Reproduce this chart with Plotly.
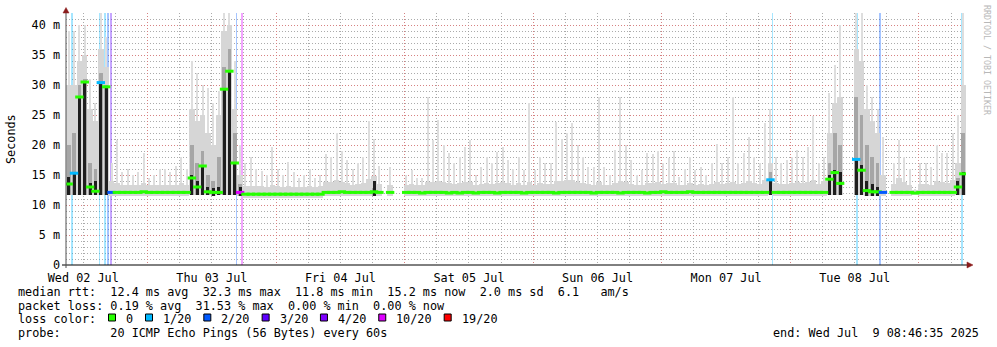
import pandas as pd
import plotly.graph_objects as go

# ---------------- data ----------------
start = pd.Timestamp("2025-07-02 08:46:35")
end = pd.Timestamp("2025-07-09 08:46:35")
bins = pd.date_range(start, periods=168, freq="h")          # hourly bins
centers = bins + pd.Timedelta(minutes=30)
N = None

# median rtt per hour (ms)
rtt_median = [
    13.5, 15.3, 28.0, 30.5, 13.0, 12.3, 30.4, 29.7, 12.1, 12.1, 12.1, 12.1, 12.1, 12.1, 12.2, 12.1, 12.1, 12.1, 12.1, 12.1, 12.1, 12.1, 12.1, 14.5,
    13.0, 16.5, 12.2, 12.1, 12.1, 29.3, 32.3, 17.0, 12.1, 11.8, 11.8, 11.8, 11.8, 11.8, 11.8, 11.8, 11.8, 11.8, 11.8, 11.8, 11.8, 11.8, 11.8, 11.8,
    12.1, 12.1, 12.1, 12.2, 12.1, 12.1, 12.1, 12.1, 12.1, 12.2, 12.1, N, 12.1, N, N, 12.1, 12.1, 12.1, 12.0, 12.1, 12.1, 12.1, 12.1, 12.0,
    12.1, 12.0, 12.1, 12.1, 12.0, 12.1, 12.1, 12.1, 12.0, 12.1, 12.1, 12.1, 12.1, 12.0, 12.1, 12.1, 12.1, 12.1, 12.1, 12.0, 12.1, 12.1, 12.1, 12.1,
    12.1, 12.1, 12.0, 12.1, 12.1, 12.1, 12.1, 12.0, 12.1, 12.1, 12.1, 12.1, 12.0, 12.1, 12.1, 12.2, 12.1, 12.1, 12.1, 12.1, 12.2, 12.1, 12.1, 12.1,
    12.1, 12.1, 12.1, 12.1, 12.1, 12.1, 12.1, 12.1, 12.1, 12.1, 12.1, 14.2, 12.1, 12.1, 12.1, 12.1, 12.1, 12.1, 12.1, 12.1, 12.1, 12.1, 14.3, 15.4,
    13.6, N, N, 17.6, 15.8, 12.4, 12.2, 12.2, 12.1, N, 12.1, 12.1, 12.1, 12.1, 12.0, 12.1, 12.1, 12.1, 12.1, 12.1, 12.1, 12.1, 13.0, 15.2,
]

# fastest ping per hour (ms) - bottom of the smoke
rtt_min = [
    11.6, 11.6, 11.7, 11.7, 11.6, 11.6, 11.7, 11.7, 11.5, 11.5, 11.5, 11.5, 11.5, 11.5, 11.5, 11.5, 11.5, 11.5, 11.5, 11.5, 11.5, 11.5, 11.5, 11.6,
    11.6, 11.6, 11.6, 11.5, 11.6, 11.7, 11.7, 11.6, 11.5, 11.2, 11.2, 11.2, 11.2, 11.2, 11.2, 11.2, 11.2, 11.2, 11.2, 11.2, 11.2, 11.2, 11.2, 11.2,
    11.5, 11.5, 11.5, 11.5, 11.5, 11.5, 11.5, 11.5, 11.5, 11.5, 11.5, N, 11.5, N, N, 11.5, 11.5, 11.5, 11.5, 11.5, 11.5, 11.5, 11.5, 11.5,
    11.5, 11.5, 11.5, 11.5, 11.5, 11.5, 11.5, 11.5, 11.5, 11.5, 11.5, 11.5, 11.5, 11.5, 11.5, 11.5, 11.5, 11.5, 11.5, 11.5, 11.5, 11.5, 11.5, 11.5,
    11.5, 11.5, 11.5, 11.5, 11.5, 11.5, 11.5, 11.5, 11.5, 11.5, 11.5, 11.5, 11.5, 11.5, 11.5, 11.5, 11.5, 11.5, 11.5, 11.5, 11.5, 11.5, 11.5, 11.5,
    11.5, 11.5, 11.5, 11.5, 11.5, 11.5, 11.5, 11.5, 11.5, 11.5, 11.5, 11.6, 11.5, 11.5, 11.5, 11.5, 11.5, 11.5, 11.5, 11.5, 11.5, 11.5, 11.6, 11.6,
    11.6, N, N, 11.6, 11.6, 11.5, 11.5, 11.5, 11.5, N, 11.5, 11.5, 11.5, 11.5, 11.6, 11.5, 11.5, 11.5, 11.5, 11.5, 11.5, 11.5, 11.6, 11.6,
]

# slowest ping per hour (ms) - top of the light smoke
rtt_max = [
    39, 39, 40, 40, 31, 27, 42, 38, 17, 20.8, 15.5, 16, 15, 15.5, 18.6, 14.5, 15, 16, 16, 15.5, 16.5, 18, 16, 34,
    32, 30, 29.5, 27, 29, 42, 42, 34, 20, 17, 18, 16, 15.6, 15, 19.7, 16, 15, 17.2, 15.5, 14.5, 15, 16, 14.5, 15,
    18.5, 18, 22, 19, 17.5, 16, 17, 18, 24, 21, 16.5, N, 16.4, N, N, 15, 15.8, 14.5, 14.5, 28, 20.8, 24.2, 20, 18.6,
    17, 18, 19.7, 20.8, 15, 16.4, 18, 17, 18.9, 19.7, 17.5, 16, 18, 15.8, 27, 15.8, 18, 17, 17, 23.9, 21, 22, 23.6, 20,
    18, 16.4, 16.4, 28, 16.4, 15, 19.2, 28, 20, 17.5, 15, 15.8, 18.6, 18.5, 19, 17, 17.8, 19, 14.7, 16, 18, 15.8, 16.4, 15,
    17, 20.2, 17, 18, 28, 17, 18.6, 21.4, 18, 17, 23.6, 26, 18, 17, 17.5, 18, 19.2, 18, 19.7, 24.8, 17, 18, 28.6, 33.3,
    40, N, N, 42, 42, 30, 28, 26, 21.4, N, 17, 20.8, 18, 16, 12.6, 17, 17, 16.4, 20, 18.6, 18.6, 22, 25, 42,
]

# upper band of the smoke (ms)
rtt_band = [
    30, 30, 34, 35, 26, 24, 36, 33, 14.0, 13.6, 13.4, 13.4, 13.3, 13.4, 13.6, 13.3, 13.3, 13.4, 13.4, 13.3, 13.4, 13.6, 13.4, 26,
    24, 25, 22, 20, 25, 39, 40, 26, 15, 13.2, 13.2, 13.1, 13.1, 13.0, 13.3, 13.1, 13.0, 13.2, 13.0, 13.0, 13.0, 13.1, 13.0, 13.1,
    13.8, 13.8, 14.2, 13.9, 13.6, 13.4, 13.5, 13.7, 14.3, 14.8, 13.5, N, 13.4, N, N, 13.4, 13.5, 13.3, 13.3, 13.8, 13.8, 14.0, 13.8, 13.6,
    13.5, 13.6, 13.8, 13.9, 13.3, 13.5, 13.6, 13.5, 13.7, 13.8, 13.6, 13.4, 13.6, 13.4, 13.8, 13.4, 13.6, 13.5, 13.5, 14.0, 14.0, 14.2, 14.2, 13.8,
    13.6, 13.5, 13.4, 13.8, 13.4, 13.3, 13.7, 14.0, 13.8, 13.5, 13.3, 13.4, 13.7, 13.7, 13.8, 13.5, 13.6, 13.7, 13.3, 13.4, 13.6, 13.4, 13.5, 13.4,
    13.5, 13.8, 13.5, 13.6, 13.9, 13.5, 13.6, 14.0, 13.6, 13.5, 14.2, 17, 13.6, 13.5, 13.5, 13.6, 13.8, 13.6, 13.8, 14.2, 13.5, 14.0, 22, 27,
    28, N, N, 36, 34, 26, 24, 22, 15, N, 13.5, 14.5, 13.8, 13.4, 12.5, 13.5, 13.5, 13.4, 14.0, 13.8, 13.7, 14.2, 17, 30,
]

# hours with dense (dark) smoke: bin index, top of medium core, top of black core
busy_bins = [0, 1, 2, 3, 4, 5, 6, 7, 23, 24, 25, 26, 27, 28, 29, 30, 31, 32, 57, 131,
             142, 143, 144, 147, 148, 149, 150, 151, 166, 167]
busy_core = [20, 22, 30, 31, 17, 16, 32, 30, 20, 17, 19, 15, 14, 18, 33, 36, 22, 13.5, 12.8, 15.5,
             17, 22, 20, 28, 25, 20, 18, 17, 14.5, 22]
busy_dark = [14.7, 15.3, 28.2, 30.5, 13.7, 14.0, 30.4, 29.7, 15.0, 14.0, 16.4, 13.0, 12.8, 13.0, 29.5, 32.2, 17.2, 13.0, 14.0, 14.2,
             15.0, 15.8, 15.5, 17.8, 16.7, 14.0, 13.5, 13.0, 14.0, 15.5]

# hours whose median carries packet loss (bin index, lost pings of 20)
median_loss_bins = [1, 6, 8, 32, 131, 147, 152]
median_loss_vals = [1, 1, 2, 10, 1, 1, 2]

# individual loss events (vertical bars)
loss_times = ["2025-07-02 09:57", "2025-07-02 15:01", "2025-07-02 16:06", "2025-07-02 16:40",
              "2025-07-02 17:10", "2025-07-03 16:36", "2025-07-03 17:35", "2025-07-07 20:39",
              "2025-07-08 12:29", "2025-07-08 16:43", "2025-07-09 08:02"]
loss_counts = [1, 1, 1, 2, 3, 2, 10, 1, 1, 2, 1]

loss_levels = [0, 1, 2, 3, 4, 10, 19]
loss_labels = ["0", "1/20", "2/20", "3/20", "4/20", "10/20", "19/20"]
loss_colors = ["#26ff00", "#00b8ff", "#0059ff", "#5e00ff", "#7e00ff", "#dd00ff", "#ff0000"]

y_ticks = [0, 5, 10, 15, 20, 25, 30, 35, 40]
y_ticktext = ["0", "5 m", "10 m", "15 m", "20 m", "25 m", "30 m", "35 m", "40 m"]
day_labels = ["Wed 02 Jul", "Thu 03 Jul", "Fri 04 Jul", "Sat 05 Jul", "Sun 06 Jul", "Mon 07 Jul", "Tue 08 Jul"]

stat_lines = [
    "median rtt:  12.4 ms avg  32.3 ms max  11.8 ms min  15.2 ms now  2.0 ms sd  6.1   am/s",
    "packet loss: 0.19 % avg  31.53 % max  0.00 % min  0.00 % now",
]
probe_line = "probe:       20 ICMP Echo Pings (56 Bytes) every 60s"
end_line = "end: Wed Jul  9 08:46:35 2025"

# ---------------- helpers ----------------
def loss_color(n):
    c = loss_colors[0]
    for lv, col in zip(loss_levels, loss_colors):
        if n >= lv:
            c = col
    return c

def rgba(hexc, a):
    h = hexc.lstrip("#")
    return "rgba(%d,%d,%d,%.2f)" % (int(h[0:2], 16), int(h[2:4], 16), int(h[4:6], 16), a)

MONO = "DejaVu Sans Mono"
FS = 11.8
HOUR_MS = 3600 * 1000
L, R, T, B = 66, 31, 13, 82
W, H = 997, 347
PW, PH = W - L - R, H - T - B
YMAX = 42.0

def px(x):
    return (x - L) / PW

def py(y):
    return (T + PH - y) / PH

def diff(top, base):
    return [None if (a is None or b is None) else a - b for a, b in zip(top, base)]

fig = go.Figure()

# loss bars (full height)
fig.add_trace(go.Bar(
    x=pd.to_datetime(loss_times), y=[YMAX] * len(loss_times), base=0,
    width=[20 * 60 * 1000] * len(loss_times),
    marker=dict(color=[rgba(loss_color(n), 0.35) for n in loss_counts], line=dict(width=0)),
    hoverinfo="skip", showlegend=False))

# light smoke spikes
fig.add_trace(go.Bar(
    x=centers, y=diff(rtt_max, rtt_min), base=rtt_min, width=0.38 * HOUR_MS,
    marker=dict(color="#dedede", line=dict(width=0)), hoverinfo="skip", showlegend=False))
# smoke band
fig.add_trace(go.Bar(
    x=centers, y=diff(rtt_band, rtt_min), base=rtt_min, width=1.0 * HOUR_MS,
    marker=dict(color="#d6d6d6", line=dict(width=0)), hoverinfo="skip", showlegend=False))

busy_x = [centers[i] for i in busy_bins]
busy_base = [rtt_min[i] for i in busy_bins]
fig.add_trace(go.Bar(
    x=busy_x, y=diff(busy_core, busy_base), base=busy_base, width=0.7 * HOUR_MS,
    marker=dict(color="#a6a6a6", line=dict(width=0)), hoverinfo="skip", showlegend=False))
fig.add_trace(go.Bar(
    x=busy_x, y=diff(busy_dark, busy_base), base=busy_base, width=0.55 * HOUR_MS,
    marker=dict(color="#1e1e1e", line=dict(width=0)), hoverinfo="skip", showlegend=False))

# median, coloured by loss
med_loss = [0] * len(rtt_median)
for i, v in zip(median_loss_bins, median_loss_vals):
    med_loss[i] = v
fig.add_trace(go.Scatter(
    x=centers, y=rtt_median, mode="markers",
    marker=dict(symbol="line-ew", size=6,
                line=dict(width=3, color=[loss_color(n) for n in med_loss])),
    hoverinfo="skip", showlegend=False))

# dummy trace for the day-label axis
noons = [pd.Timestamp("2025-07-%02d 12:00" % d) for d in range(2, 9)]
fig.add_trace(go.Scatter(x=noons, y=[None] * len(noons), xaxis="x2", mode="markers",
                         hoverinfo="skip", showlegend=False))

midnights = [pd.Timestamp("2025-07-%02d 00:00" % d) for d in range(3, 10)]

GRID_MAJOR = "rgba(225,120,120,0.8)"
GRID_MINOR = "rgba(150,150,150,0.8)"

fig.update_layout(
    width=W, height=H, margin=dict(l=L, r=R, t=T, b=B),
    paper_bgcolor="white", plot_bgcolor="white", barmode="overlay", bargap=0,
    font=dict(family=MONO, size=FS, color="black"),
    xaxis=dict(type="date", range=[start, end], tickvals=midnights, showticklabels=False,
               ticks="", showgrid=True, gridcolor=GRID_MAJOR, griddash="1px,2px", gridwidth=1,
               minor=dict(dtick=6 * HOUR_MS, tick0="2025-07-02 00:00", showgrid=True,
                          gridcolor=GRID_MINOR, griddash="1px,2px", gridwidth=1, ticks=""),
               showline=False, zeroline=False, fixedrange=True),
    xaxis2=dict(type="date", overlaying="x", anchor="y", side="bottom", range=[start, end],
                tickvals=noons, ticktext=day_labels, showgrid=False, ticks="",
                ticklabelstandoff=4,
                showline=False, zeroline=False, tickfont=dict(family=MONO, size=FS)),
    yaxis=dict(range=[0, YMAX], tickvals=y_ticks, ticktext=y_ticktext, ticks="",
               ticklabelstandoff=5,
               showgrid=True, gridcolor=GRID_MAJOR, griddash="1px,2px", gridwidth=1,
               minor=dict(dtick=1, showgrid=True, gridcolor=GRID_MINOR, griddash="1px,2px",
                          gridwidth=1, ticks=""),
               zeroline=False, showline=False, tickfont=dict(family=MONO, size=FS)),
)

shapes = []
# axis lines and arrows
shapes.append(dict(type="line", xref="paper", yref="paper", x0=px(62), x1=px(969), y0=py(265), y1=py(265),
                   line=dict(color="black", width=1), layer="above"))
shapes.append(dict(type="line", xref="paper", yref="paper", x0=px(66), x1=px(66), y0=py(268), y1=py(11),
                   line=dict(color="#505050", width=1), layer="above"))
shapes.append(dict(type="path", xref="paper", yref="paper",
                   path="M %f %f L %f %f L %f %f Z" % (px(967), py(262), px(973), py(265), px(967), py(268)),
                   fillcolor="#8b1c1c", line=dict(color="#8b1c1c", width=0.5), layer="above"))
shapes.append(dict(type="path", xref="paper", yref="paper",
                   path="M %f %f L %f %f L %f %f Z" % (px(63), py(13), px(66), py(7.5), px(69), py(13)),
                   fillcolor="#8b1c1c", line=dict(color="#8b1c1c", width=0.5), layer="above"))

ann = []
ann.append(dict(text="Seconds", xref="paper", yref="paper", x=px(11), y=py(139), textangle=-90,
                xanchor="center", yanchor="middle",
                showarrow=False, font=dict(family=MONO, size=FS)))
ann.append(dict(text="RRDTOOL / TOBI OETIKER", xref="paper", yref="paper", x=px(987), y=py(60),
                xanchor="center", yanchor="middle",
                textangle=90, showarrow=False, font=dict(family=MONO, size=8.3, color="#b8b8b8")))

def nb(s):
    return s.replace(" ", "\u00a0")

row_y = [291.7, 305.7, 319.3, 333.3]
for i, s in enumerate(stat_lines):
    ann.append(dict(text=nb(s), xref="paper", yref="paper", x=px(16), y=py(row_y[i]),
                    xanchor="left", yanchor="middle", showarrow=False, font=dict(family=MONO, size=FS)))
ann.append(dict(text=nb("loss color:"), xref="paper", yref="paper", x=px(16), y=py(row_y[2]),
                xanchor="left", yanchor="middle", showarrow=False, font=dict(family=MONO, size=FS)))
CW = FS * 0.602
xb = 108.5
for lab, col in zip(loss_labels, loss_colors):
    shapes.append(dict(type="rect", xref="paper", yref="paper", x0=px(xb), x1=px(xb + 7),
                       y0=py(321), y1=py(314), fillcolor=col, line=dict(color="black", width=1),
                       layer="above"))
    lx = xb + 15.5
    ann.append(dict(text=nb(lab), xref="paper", yref="paper", x=px(lx), y=py(row_y[2]),
                    xanchor="left", yanchor="middle", showarrow=False, font=dict(family=MONO, size=FS)))
    xb = lx + len(lab) * CW + 14.4
ann.append(dict(text=nb(probe_line), xref="paper", yref="paper", x=px(16), y=py(row_y[3]),
                xanchor="left", yanchor="middle", showarrow=False, font=dict(family=MONO, size=FS)))
ann.append(dict(text=nb(end_line), xref="paper", yref="paper", x=px(980.5), y=py(row_y[3]),
                xanchor="right", yanchor="middle", showarrow=False, font=dict(family=MONO, size=FS)))

fig.update_layout(shapes=shapes, annotations=ann)
fig.write_html("out.html")
